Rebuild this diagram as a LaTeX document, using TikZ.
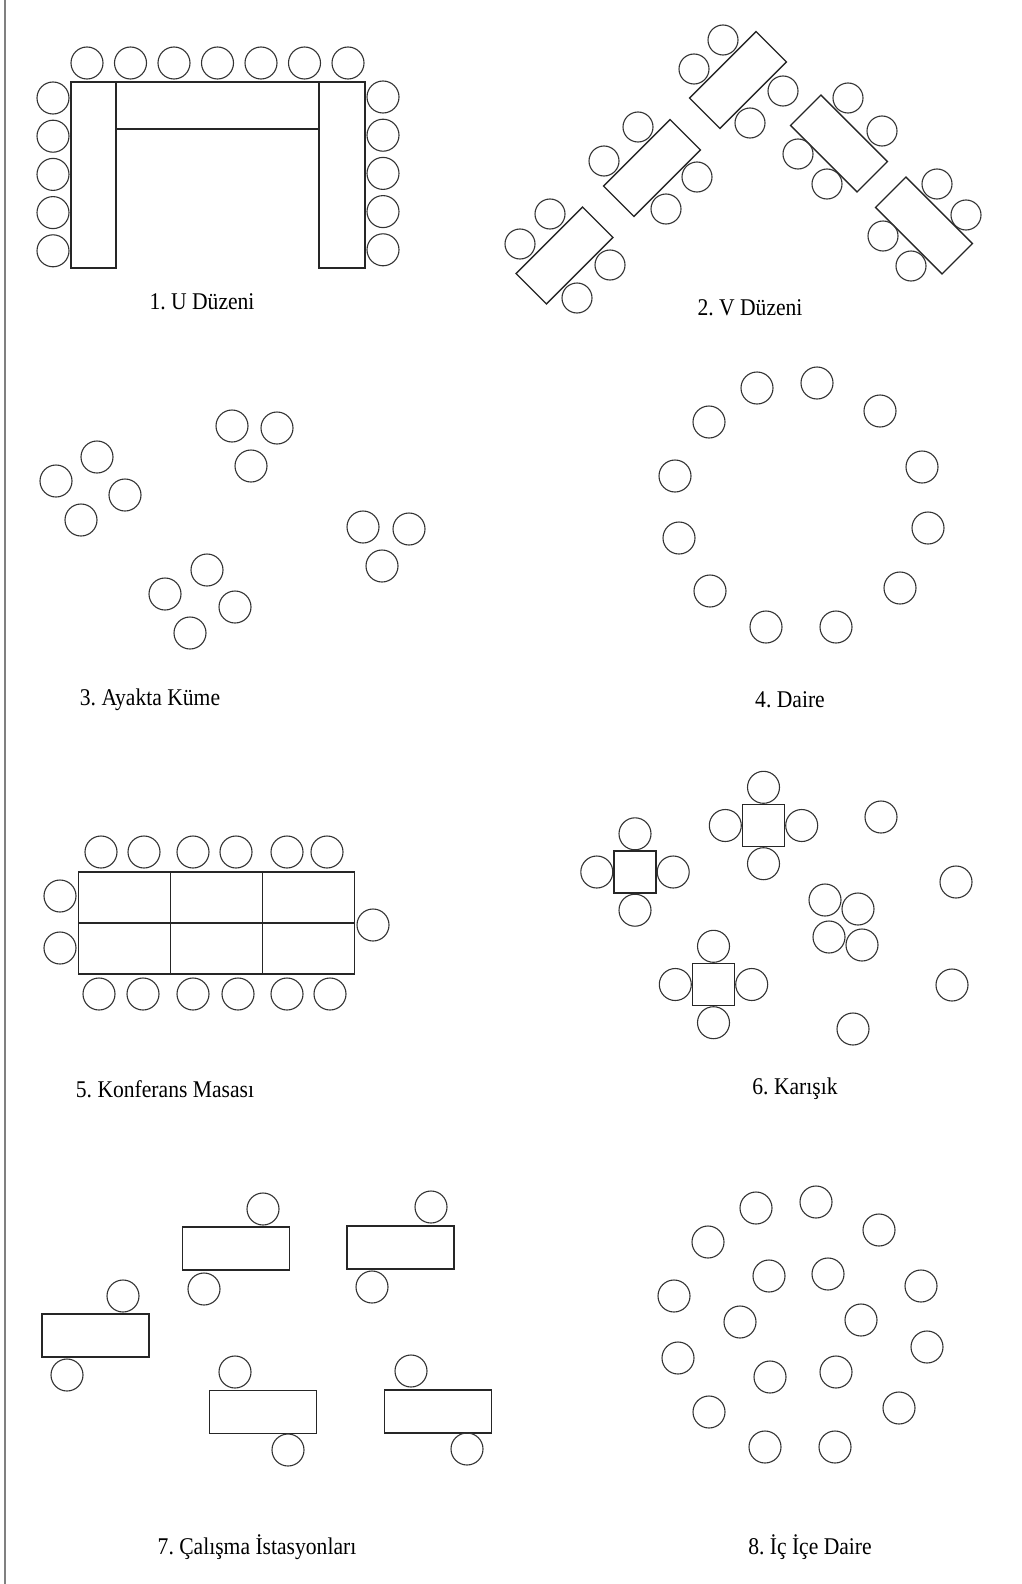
\documentclass[tikz,border=0pt]{standalone}
\usepackage{fontspec}
\setmainfont[FakeStretch=0.9]{Liberation Serif}
\usetikzlibrary{positioning}
\frenchspacing

\begin{document}
\begin{tikzpicture}[x=1pt,y=-1pt,
  chair/.style={draw=black!80, circle, line width=1.1pt, minimum size=32pt, inner sep=0pt},
  vchair/.style={chair, minimum size=30pt},
  desk/.style={draw=black!85, rectangle, line width=1.3pt, inner sep=0pt},
  vdesk/.style={desk, minimum width=94pt, minimum height=43pt},
  wdesk/.style={desk, minimum width=107pt, minimum height=43pt},
  sqdesk/.style={desk, minimum size=42pt},
  cell/.style={desk, minimum width=92pt, minimum height=51pt},
  caption/.style={font=\fontsize{24}{28}\selectfont, inner sep=0pt}]
\useasboundingbox (0,0) rectangle (1021,1584);
\draw[black!50, line width=2pt] (5,0) -- (5,1584);

% 1. U layout
\node[name=u_left, desk, minimum width=45pt, minimum height=186pt] at (93.5,175) {};
\node[name=u_right, desk, minimum width=46pt, minimum height=186pt] at (342,175) {};
\node[name=u_top, desk, minimum width=203pt, minimum height=47pt] at (217.5,105.5) {};
\begin{scope}[node distance=43.5pt]
\node[name=u_t1, chair] at (87,63) {};
\node[name=u_t2, chair, right of=u_t1] {};
\node[name=u_t3, chair, right of=u_t2] {};
\node[name=u_t4, chair, right of=u_t3] {};
\node[name=u_t5, chair, right of=u_t4] {};
\node[name=u_t6, chair, right of=u_t5] {};
\node[name=u_t7, chair, right of=u_t6] {};
\end{scope}
\begin{scope}[node distance=38.2pt]
\node[name=u_l1, chair] at (53,98) {};
\node[name=u_l2, chair, below of=u_l1] {};
\node[name=u_l3, chair, below of=u_l2] {};
\node[name=u_l4, chair, below of=u_l3] {};
\node[name=u_l5, chair, below of=u_l4] {};
\node[name=u_r1, chair] at (383,97) {};
\node[name=u_r2, chair, below of=u_r1] {};
\node[name=u_r3, chair, below of=u_r2] {};
\node[name=u_r4, chair, below of=u_r3] {};
\node[name=u_r5, chair, below of=u_r4] {};
\end{scope}
\node[name=cap_u, caption] at (202,302) {1. U Düzeni};

% 2. V layout
\node[name=v_a, vdesk, rotate=45] at (564.5,255.5) {};
\node[name=v_a1, vchair] at (550,214) {};
\node[name=v_a2, vchair] at (520,244) {};
\node[name=v_a3, vchair] at (610,265) {};
\node[name=v_a4, vchair] at (577,298) {};
\node[name=v_b, vdesk, rotate=45] at (652,168) {};
\node[name=v_b1, vchair] at (638,127) {};
\node[name=v_b2, vchair] at (604,161) {};
\node[name=v_b3, vchair] at (697,177) {};
\node[name=v_b4, vchair] at (666,209) {};
\node[name=v_c, vdesk, rotate=45] at (738,80) {};
\node[name=v_c1, vchair] at (723,40) {};
\node[name=v_c2, vchair] at (694,69) {};
\node[name=v_c3, vchair] at (783,91) {};
\node[name=v_c4, vchair] at (750,123) {};
\node[name=v_d, vdesk, rotate=-45] at (839,143.5) {};
\node[name=v_d1, vchair] at (848,98) {};
\node[name=v_d2, vchair] at (882,131) {};
\node[name=v_d3, vchair] at (798,154) {};
\node[name=v_d4, vchair] at (827,184) {};
\node[name=v_e, vdesk, rotate=-45] at (924,225.5) {};
\node[name=v_e1, vchair] at (937,184) {};
\node[name=v_e2, vchair] at (966,215) {};
\node[name=v_e3, vchair] at (883,236) {};
\node[name=v_e4, vchair] at (911,266) {};
\node[name=cap_v, caption] at (750,308) {2. V Düzeni};

% 3. standing clusters
\node[name=k_a1, chair] at (97,457) {};
\node[name=k_a2, chair] at (56,481) {};
\node[name=k_a3, chair] at (125,495) {};
\node[name=k_a4, chair] at (81,520) {};
\node[name=k_b1, chair] at (232,426) {};
\node[name=k_b2, chair] at (277,428) {};
\node[name=k_b3, chair] at (251,466) {};
\node[name=k_c1, chair] at (363,527) {};
\node[name=k_c2, chair] at (409,529) {};
\node[name=k_c3, chair] at (382,566) {};
\node[name=k_d1, chair] at (207,570) {};
\node[name=k_d2, chair] at (165,594) {};
\node[name=k_d3, chair] at (235,607) {};
\node[name=k_d4, chair] at (190,633) {};
\node[name=cap_k, caption] at (150,700) {3. Ayakta Küme};

% 4. circle
\node[name=d_1, chair] at (757,388) {};
\node[name=d_2, chair] at (817,383) {};
\node[name=d_3, chair] at (880,411) {};
\node[name=d_4, chair] at (922,467) {};
\node[name=d_5, chair] at (928,528) {};
\node[name=d_6, chair] at (900,588) {};
\node[name=d_7, chair] at (836,627) {};
\node[name=d_8, chair] at (766,627) {};
\node[name=d_9, chair] at (710,591) {};
\node[name=d_10, chair] at (679,538) {};
\node[name=d_11, chair] at (675,476) {};
\node[name=d_12, chair] at (709,422) {};
\node[name=cap_d, caption] at (790,700) {4. Daire};

% 5. conference table
\node[name=m_11, cell] at (124.5,897.5) {};
\node[name=m_12, cell] at (216.5,897.5) {};
\node[name=m_13, cell] at (308.5,897.5) {};
\node[name=m_21, cell] at (124.5,948.5) {};
\node[name=m_22, cell] at (216.5,948.5) {};
\node[name=m_23, cell] at (308.5,948.5) {};
\node[name=m_t1, chair] at (101,852) {};
\node[name=m_t2, chair] at (144,852) {};
\node[name=m_t3, chair] at (193,852) {};
\node[name=m_t4, chair] at (236,852) {};
\node[name=m_t5, chair] at (287,852) {};
\node[name=m_t6, chair] at (327,852) {};
\node[name=m_b1, chair] at (99,994) {};
\node[name=m_b2, chair] at (143,994) {};
\node[name=m_b3, chair] at (193,994) {};
\node[name=m_b4, chair] at (238,994) {};
\node[name=m_b5, chair] at (287,994) {};
\node[name=m_b6, chair] at (330,994) {};
\node[name=m_l1, chair] at (60,896) {};
\node[name=m_l2, chair] at (60,948) {};
\node[name=m_r1, chair] at (373,925) {};
\node[name=cap_m, caption] at (165,1089) {5. Konferans Masası};

% 6. mixed
\node[name=x_s1, sqdesk] at (635,872) {};
\node[name=x_s1_t, chair, above=0pt of x_s1] {};
\node[name=x_s1_b, chair, below=0pt of x_s1] {};
\node[name=x_s1_l, chair, left=0pt of x_s1] {};
\node[name=x_s1_r, chair, right=0pt of x_s1] {};
\node[name=x_s2, sqdesk] at (763.5,825.5) {};
\node[name=x_s2_t, chair, above=0pt of x_s2] {};
\node[name=x_s2_b, chair, below=0pt of x_s2] {};
\node[name=x_s2_l, chair, left=0pt of x_s2] {};
\node[name=x_s2_r, chair, right=0pt of x_s2] {};
\node[name=x_s3, sqdesk] at (713.5,984.5) {};
\node[name=x_s3_t, chair, above=0pt of x_s3] {};
\node[name=x_s3_b, chair, below=0pt of x_s3] {};
\node[name=x_s3_l, chair, left=0pt of x_s3] {};
\node[name=x_s3_r, chair, right=0pt of x_s3] {};
\node[name=x_c1, chair] at (825,900) {};
\node[name=x_c2, chair] at (858,909) {};
\node[name=x_c3, chair] at (829,937) {};
\node[name=x_c4, chair] at (862,945) {};
\node[name=x_o1, chair] at (881,817) {};
\node[name=x_o2, chair] at (956,882) {};
\node[name=x_o3, chair] at (952,985) {};
\node[name=x_o4, chair] at (853,1029) {};
\node[name=cap_x, caption] at (795,1089) {6. Karışık};

% 7. work stations
\node[name=w_1, wdesk] at (95.5,1335.5) {};
\node[name=w_1a, chair] at (123,1296) {};
\node[name=w_1b, chair] at (67,1375) {};
\node[name=w_2, wdesk] at (236,1248.5) {};
\node[name=w_2a, chair] at (263,1209) {};
\node[name=w_2b, chair] at (204,1289) {};
\node[name=w_3, wdesk] at (400.5,1247.5) {};
\node[name=w_3a, chair] at (431,1207) {};
\node[name=w_3b, chair] at (372,1287) {};
\node[name=w_4, wdesk] at (263,1412) {};
\node[name=w_4a, chair] at (235,1372) {};
\node[name=w_4b, chair] at (288,1450) {};
\node[name=w_5, wdesk] at (438,1411.5) {};
\node[name=w_5a, chair] at (411,1371) {};
\node[name=w_5b, chair] at (467,1449) {};
\node[name=cap_w, caption] at (257,1547) {7. Çalışma İstasyonları};

% 8. nested circles
\node[name=n_o1, chair] at (756,1208) {};
\node[name=n_o2, chair] at (816,1202) {};
\node[name=n_o3, chair] at (879,1230) {};
\node[name=n_o4, chair] at (921,1286) {};
\node[name=n_o5, chair] at (927,1347) {};
\node[name=n_o6, chair] at (899,1408) {};
\node[name=n_o7, chair] at (835,1447) {};
\node[name=n_o8, chair] at (765,1447) {};
\node[name=n_o9, chair] at (709,1412) {};
\node[name=n_o10, chair] at (678,1358) {};
\node[name=n_o11, chair] at (674,1296) {};
\node[name=n_o12, chair] at (708,1242) {};
\node[name=n_i1, chair] at (769,1276) {};
\node[name=n_i2, chair] at (828,1274) {};
\node[name=n_i3, chair] at (861,1320) {};
\node[name=n_i4, chair] at (836,1372) {};
\node[name=n_i5, chair] at (770,1377) {};
\node[name=n_i6, chair] at (740,1322) {};
\node[name=cap_n, caption] at (810,1547) {8. İç İçe Daire};
\end{tikzpicture}
\end{document}
